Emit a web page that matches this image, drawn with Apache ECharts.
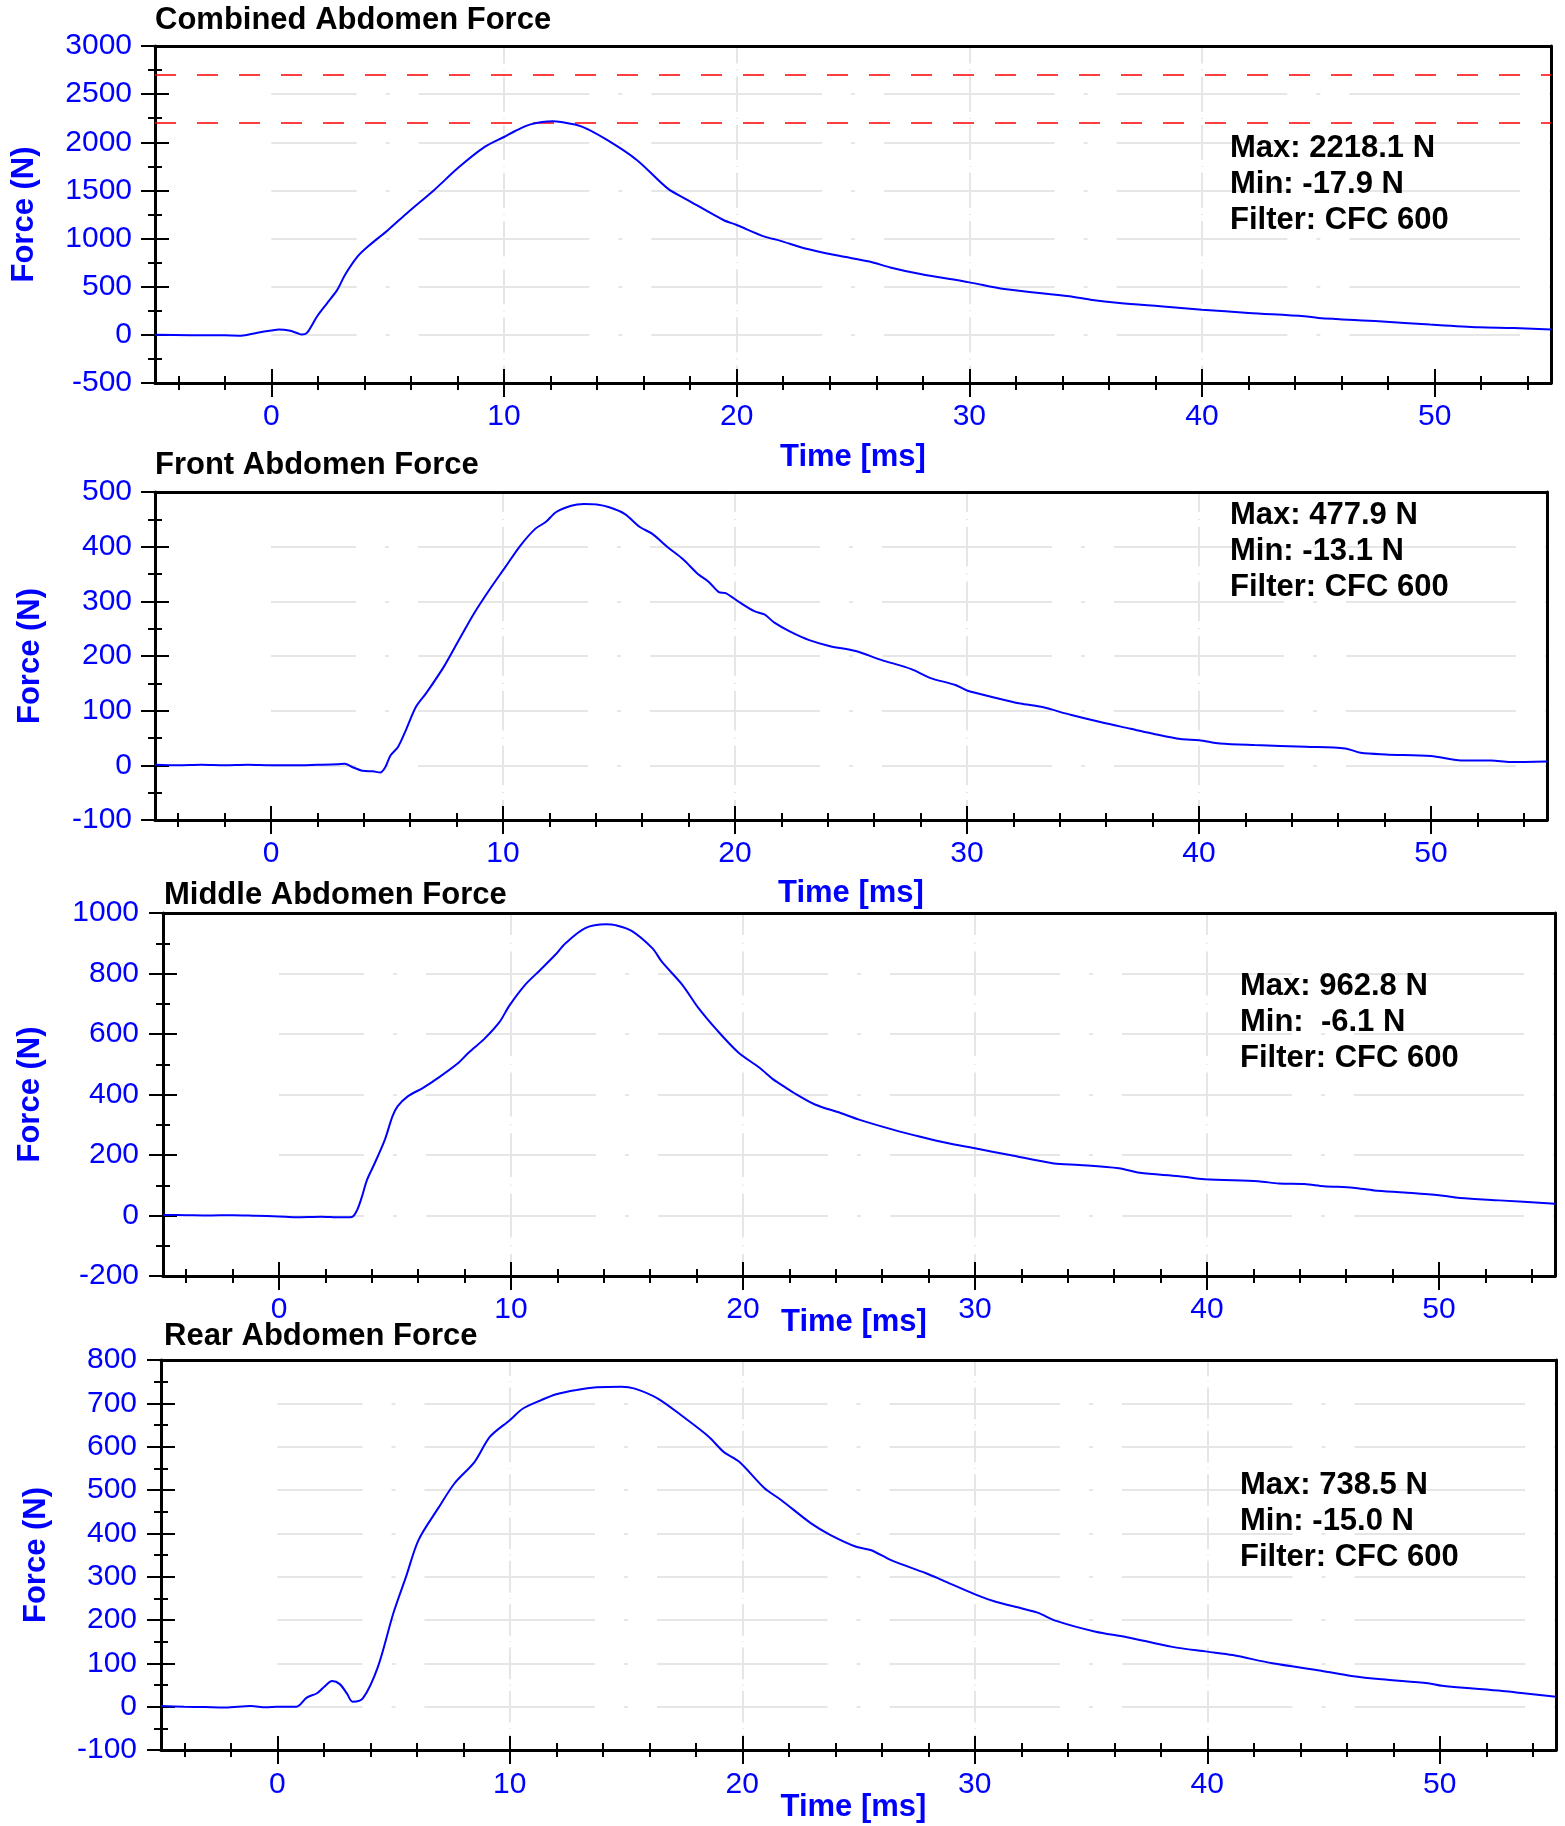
<!DOCTYPE html>
<html><head><meta charset="utf-8">
<script src="https://cdn.jsdelivr.net/npm/echarts@6/dist/echarts.min.js"></script>
<style>html,body{margin:0;padding:0;background:#fff}#c{width:1565px;height:1826px}</style>
</head><body><div id="c"></div>
<script>
// ---------- DATA ----------
const xMajorTicks = [0, 10, 20, 30, 40, 50];
const xMinorTicks = [-4, -2, 2, 4, 6, 8, 12, 14, 16, 18, 22, 24, 26, 28, 32, 34, 36, 38, 42, 44, 46, 48, 52, 54];

const combinedTime = [-5, -3.5, -2, -1.3, -0.65, 0, 0.33, 0.76, 1.1, 1.31, 1.53, 1.97, 2.4, 2.84, 3.17, 3.71, 4.15, 5.02, 5.9, 6.99, 8.08, 9.17, 10.0, 10.48, 11.14, 12.1, 12.45, 13.32, 14.41, 15.72, 17.03, 17.9, 19.43, 20.0, 21.2, 21.85, 22.9, 24.4, 25.7, 26.6, 27.9, 30.0, 31.5, 34.3, 35.2, 36.45, 38.2, 40.0, 42.0, 44.4, 45.0, 47.6, 49.8, 51.9, 53.4, 55];
const combinedForce = [0, -3, -5, -8, 20, 45, 55, 45, 20, 3, 20, 193, 330, 470, 624, 814, 917, 1090, 1279, 1503, 1745, 1952, 2055, 2117, 2186, 2218, 2210, 2165, 2027, 1814, 1521, 1400, 1193, 1141, 1020, 979, 900, 821, 762, 700, 631, 545, 476, 400, 365, 331, 297, 262, 228, 193, 176, 141, 107, 79, 72, 55];
const combinedYTicks = [-500, 0, 500, 1000, 1500, 2000, 2500, 3000];
const combinedYMinor = [-250, 250, 750, 1250, 1750, 2250, 2750];
const combinedLimits = [2700, 2200];
const combinedStats = ['Max: 2218.1 N', 'Min: -17.9 N', 'Filter: CFC 600'];

const frontTime = [-5, -4, -3, -2, -1, 0, 1, 2, 2.85, 3.18, 3.5, 3.95, 4.39, 4.71, 4.93, 5.15, 5.48, 5.81, 6.25, 6.69, 7.46, 8.11, 8.77, 9.43, 10.09, 10.75, 11.4, 11.84, 12.28, 12.94, 13.49, 14.04, 14.58, 15.24, 15.9, 16.45, 17.1, 17.76, 18.4, 18.86, 19.3, 19.6, 20.2, 20.83, 21.27, 21.7, 22.4, 23.2, 24.1, 25.2, 26.3, 27.6, 28.4, 29.5, 30.0, 31.0, 32.3, 33.2, 34.5, 35.97, 37.05, 38.1, 39.2, 40.0, 40.9, 42.4, 44.6, 46.3, 46.97, 48.05, 50.0, 51.3, 52.6, 53.4, 55];
const frontForce = [1, 0, 1, 0, 1, 0, 0, 1, 2, 3, -3, -10, -11, -13, -3, 18, 34, 64, 107, 132, 181, 230, 279, 322, 362, 402, 433, 445, 463, 475, 477.9, 477, 472, 460, 436, 423, 399, 377, 350, 336, 317, 315, 298, 282, 276, 261, 244, 229, 218, 209, 193, 176, 160, 147, 137, 126, 113, 107, 92, 77, 67, 57, 48, 46, 40, 37, 34, 31, 23, 20, 17, 9, 9, 6, 7];
const frontYTicks = [-100, 0, 100, 200, 300, 400, 500];
const frontYMinor = [-50, 50, 150, 250, 350, 450];
const frontStats = ['Max: 477.9 N', 'Min: -13.1 N', 'Filter: CFC 600'];

const middleTime = [-5, -4, -3, -2, -1, 0, 0.72, 1.82, 2.6, 3.14, 3.36, 3.57, 3.79, 4.12, 4.56, 4.89, 5.11, 5.55, 6.21, 6.86, 7.74, 8.18, 8.84, 9.5, 9.93, 10.59, 11.25, 11.9, 12.35, 13.2, 14.1, 14.5, 15.2, 16.1, 16.5, 17.4, 18.05, 18.9, 19.8, 20.7, 21.3, 21.56, 22.2, 23.1, 24.2, 25.0, 26.5, 27.6, 28.7, 30.0, 31.5, 33.4, 34.5, 36.2, 37.1, 38.8, 39.9, 42.2, 43.1, 44.2, 45.05, 46.3, 47.2, 48.5, 50.0, 50.9, 52.6, 55];
const middleForce = [2, 1, 0, 1, -1, -3, -5.5, -4, -6, -5, 17, 61, 117, 172, 250, 328, 361, 394, 422, 455, 505, 539, 583, 639, 694, 761, 811, 861, 900, 950, 962.8, 960, 941, 883, 839, 761, 689, 611, 539, 489, 450, 437, 405, 367, 339, 317, 283, 261, 241, 222, 200, 172, 167, 156, 141, 130, 120, 113, 106, 104, 97, 92, 83, 76, 67, 58, 50, 39];
const middleYTicks = [-200, 0, 200, 400, 600, 800, 1000];
const middleYMinor = [-100, 100, 300, 500, 700, 900];
const middleStats = ['Max: 962.8 N', 'Min:  -6.1 N', 'Filter: CFC 600'];

const rearTime = [-5, -4, -3.1, -2.23, -1.14, -0.48, 0, 0.83, 1.27, 1.71, 2.0, 2.36, 2.69, 3.0, 3.24, 3.68, 4.33, 4.99, 5.54, 6.08, 6.96, 7.62, 8.49, 9.15, 10.0, 10.57, 11.33, 12.0, 12.87, 13.74, 14.8, 15.38, 16.37, 17.46, 18.56, 19.2, 19.87, 20.96, 21.67, 22.96, 23.8, 24.9, 25.55, 26.4, 27.9, 28.6, 30.07, 30.9, 32.0, 32.7, 33.5, 35.2, 36.5, 38.5, 40.0, 41.1, 42.8, 44.9, 46.2, 47.5, 49.5, 50.1, 52.7, 53.6, 55];
const rearForce = [1.5, 0, -1, -2, 1.5, -1.5, 0, 0, 21, 31, 45, 59, 52, 30, 11.5, 19, 92, 215, 300, 385, 461, 515, 565, 623, 661, 688, 707, 721, 731, 737, 738.5, 734, 711, 669, 623, 588, 565, 504, 477, 423, 396, 369, 361, 338, 308, 292, 258, 242, 227, 217, 198, 173, 161, 138, 127, 119, 100, 83, 71, 63, 54, 48, 36, 31, 23];
const rearYTicks = [-100, 0, 100, 200, 300, 400, 500, 600, 700, 800];
const rearYMinor = [-50, 50, 150, 250, 350, 450, 550, 650, 750];
const rearStats = ['Max: 738.5 N', 'Min: -15.0 N', 'Filter: CFC 600'];

const titles = ['Combined Abdomen Force', 'Front Abdomen Force', 'Middle Abdomen Force', 'Rear Abdomen Force'];
const xAxisName = 'Time [ms]';
const yAxisName = 'Force (N)';

// ---------- LAYOUT ----------
const FONT = '"Liberation Sans", Arial, Helvetica, sans-serif';
const BLUE = '#0000ff';
const GRIDC = '#e6e6e6';
const BOLD = 31;

const panels = [
  {time: combinedTime, force: combinedForce, yTicks: combinedYTicks, yMinor: combinedYMinor, stats: combinedStats, limits: combinedLimits,
   grid: {left: 155, top: 46, width: 1396, height: 337}, titleX: 155, titleY: 20, statsX: 1230, statsY: 184,
   yNameGap: 115, xNameGap: 59, xNameShift: 0, yLabelMargin: 23, xLabelMargin: 19},
  {time: frontTime, force: frontForce, yTicks: frontYTicks, yMinor: frontYMinor, stats: frontStats, limits: null,
   grid: {left: 155, top: 492, width: 1392, height: 328}, titleX: 155, titleY: 465, statsX: 1230, statsY: 551,
   yNameGap: 109, xNameGap: 58, xNameShift: 0, yLabelMargin: 23, xLabelMargin: 19},
  {time: middleTime, force: middleForce, yTicks: middleYTicks, yMinor: middleYMinor, stats: middleStats, limits: null,
   grid: {left: 163, top: 913, width: 1392, height: 363}, titleX: 164, titleY: 895, statsX: 1240, statsY: 1022,
   yNameGap: 117, xNameGap: 31, xNameShift: 10, yLabelMargin: 24, xLabelMargin: 19},
  {time: rearTime, force: rearForce, yTicks: rearYTicks, yMinor: rearYMinor, stats: rearStats, limits: null,
   grid: {left: 161, top: 1360, width: 1395, height: 390}, titleX: 164, titleY: 1336, statsX: 1240, statsY: 1521,
   yNameGap: 109, xNameGap: 42, xNameShift: 10, yLabelMargin: 24, xLabelMargin: 20}
];

const option = {animation: false, backgroundColor: '#fff', title: [], grid: [], xAxis: [], yAxis: [], series: [], graphic: []};
const plain = v => String(v);

panels.forEach((p, i) => {
  const g = p.grid;
  const gi = option.grid.length;
  option.grid.push({left: g.left, top: g.top, width: g.width, height: g.height, show: false, containLabel: false, outerBoundsMode: 'none'});
  const pxPerMs = g.width / 60;
  const start = 5 * pxPerMs;
  option.grid.push({left: g.left + start, top: g.top, width: g.width - start, height: g.height, show: false, containLabel: false, outerBoundsMode: 'none'});

  const yMin = p.yTicks[0], yMax = p.yTicks[p.yTicks.length - 1], yInt = p.yTicks[1] - p.yTicks[0];
  const vP = g.height / (p.yTicks.length - 1);
  const hP = pxPerMs * 10;

  const tickLS = {color: '#000', width: 2};
  const xi = option.xAxis.length;
  option.xAxis.push({
    type: 'value', gridIndex: gi, min: -5, max: 55, position: 'bottom', offset: 0, z: 3,
    axisLine: {show: true, onZero: false, lineStyle: {color: '#000', width: 3}},
    axisTick: {show: false, customValues: xMajorTicks},
    axisLabel: {show: true, customValues: xMajorTicks, formatter: plain, margin: p.xLabelMargin, color: BLUE, fontSize: 30, fontFamily: FONT},
    splitLine: {show: true, showMinLine: false, showMaxLine: false,
      lineStyle: {color: GRIDC, width: 2, type: [vP * 0.73, vP * 0.125, vP * 0.02, vP * 0.125], dashOffset: vP * 0.365}},
    name: xAxisName, nameLocation: 'middle', nameGap: p.xNameGap, nameMoveOverlap: false,
    nameTextStyle: {color: BLUE, fontSize: BOLD, fontWeight: 'bold', fontFamily: FONT, padding: [0, p.xNameShift, 0, 0]}
  });
  option.xAxis.push({
    type: 'value', gridIndex: gi, min: -5, max: 55, position: 'bottom', offset: 14, z: 3,
    axisLine: {show: false, onZero: false}, axisLabel: {show: false}, splitLine: {show: false},
    axisTick: {show: true, inside: true, length: 28, customValues: xMajorTicks, lineStyle: tickLS}
  });
  option.xAxis.push({
    type: 'value', gridIndex: gi, min: -5, max: 55, position: 'bottom', offset: 7, z: 3,
    axisLine: {show: false, onZero: false}, axisLabel: {show: false}, splitLine: {show: false},
    axisTick: {show: true, inside: true, length: 14, customValues: xMinorTicks, lineStyle: tickLS}
  });
  // top border line
  option.xAxis.push({
    type: 'value', gridIndex: gi, min: -5, max: 55, position: 'top', offset: 0, z: 3,
    axisLine: {show: true, onZero: false, lineStyle: {color: '#000', width: 3}},
    axisTick: {show: false}, axisLabel: {show: false}, splitLine: {show: false}
  });
  option.xAxis.push({type: 'value', gridIndex: gi + 1, min: 0, max: 55, show: false});

  const yi = option.yAxis.length;
  option.yAxis.push({
    type: 'value', gridIndex: gi, min: yMin, max: yMax, interval: yInt, position: 'left', offset: 0, z: 3,
    axisLine: {show: true, onZero: false, lineStyle: {color: '#000', width: 3}},
    axisTick: {show: false, customValues: p.yTicks},
    axisLabel: {show: true, customValues: p.yTicks, formatter: plain, margin: p.yLabelMargin, color: BLUE, fontSize: 30, fontFamily: FONT},
    splitLine: {show: false},
    name: yAxisName, nameLocation: 'middle', nameGap: p.yNameGap, nameMoveOverlap: false,
    nameTextStyle: {color: BLUE, fontSize: BOLD, fontWeight: 'bold', fontFamily: FONT}
  });
  option.yAxis.push({
    type: 'value', gridIndex: gi, min: yMin, max: yMax, interval: yInt, position: 'left', offset: 14, z: 3,
    axisLine: {show: false, onZero: false}, axisLabel: {show: false}, splitLine: {show: false},
    axisTick: {show: true, inside: true, length: 28, customValues: p.yTicks, lineStyle: tickLS}
  });
  option.yAxis.push({
    type: 'value', gridIndex: gi, min: yMin, max: yMax, interval: yInt, position: 'left', offset: 7, z: 3,
    axisLine: {show: false, onZero: false}, axisLabel: {show: false}, splitLine: {show: false},
    axisTick: {show: true, inside: true, length: 14, customValues: p.yMinor, lineStyle: tickLS}
  });
  // right border line
  option.yAxis.push({
    type: 'value', gridIndex: gi, min: yMin, max: yMax, interval: yInt, position: 'right', offset: 0, z: 3,
    axisLine: {show: true, onZero: false, lineStyle: {color: '#000', width: 3}},
    axisTick: {show: false}, axisLabel: {show: false}, splitLine: {show: false}
  });
  option.yAxis.push({
    type: 'value', gridIndex: gi + 1, min: yMin, max: yMax, interval: yInt, position: 'left', z: 0,
    axisLine: {show: false, onZero: false}, axisTick: {show: false}, axisLabel: {show: false},
    splitLine: {show: true, showMinLine: false, showMaxLine: false,
      lineStyle: {color: GRIDC, width: 2, type: [hP * 0.733, hP * 0.125, hP * 0.017, hP * 0.125], dashOffset: hP * 0.3665}}
  });

  const s = {
    type: 'line', xAxisIndex: xi, yAxisIndex: yi, showSymbol: false, symbol: 'none',
    smooth: 0.3, silent: true, clip: true, z: 5,
    lineStyle: {color: BLUE, width: 2},
    data: p.time.map((t, k) => [t, p.force[k]])
  };
  if (p.limits) {
    s.markLine = {
      silent: true, symbol: ['none', 'none'], label: {show: false},
      lineStyle: {color: '#ff0000', width: 1.5, type: [21, 21]},
      data: p.limits.map(v => ({yAxis: v}))
    };
  }
  option.series.push(s);

  option.title.push({
    text: titles[i], left: p.titleX, top: p.titleY - 15, padding: 0,
    textStyle: {fontSize: BOLD, fontWeight: 'bold', color: '#000', fontFamily: FONT, lineHeight: 30}
  });

  option.graphic.push({
    type: 'text', x: p.statsX, y: p.statsY, z: 10,
    style: {text: p.stats.join('\n'), fill: '#000', fontSize: BOLD, fontWeight: 'bold', fontFamily: FONT,
      lineHeight: 36, align: 'left', verticalAlign: 'middle', textAlign: 'left', textVerticalAlign: 'middle'}
  });
});

const chart = echarts.init(document.getElementById('c'), null, {renderer: 'canvas', width: 1565, height: 1826});
chart.setOption(option);
</script>
</body></html>
